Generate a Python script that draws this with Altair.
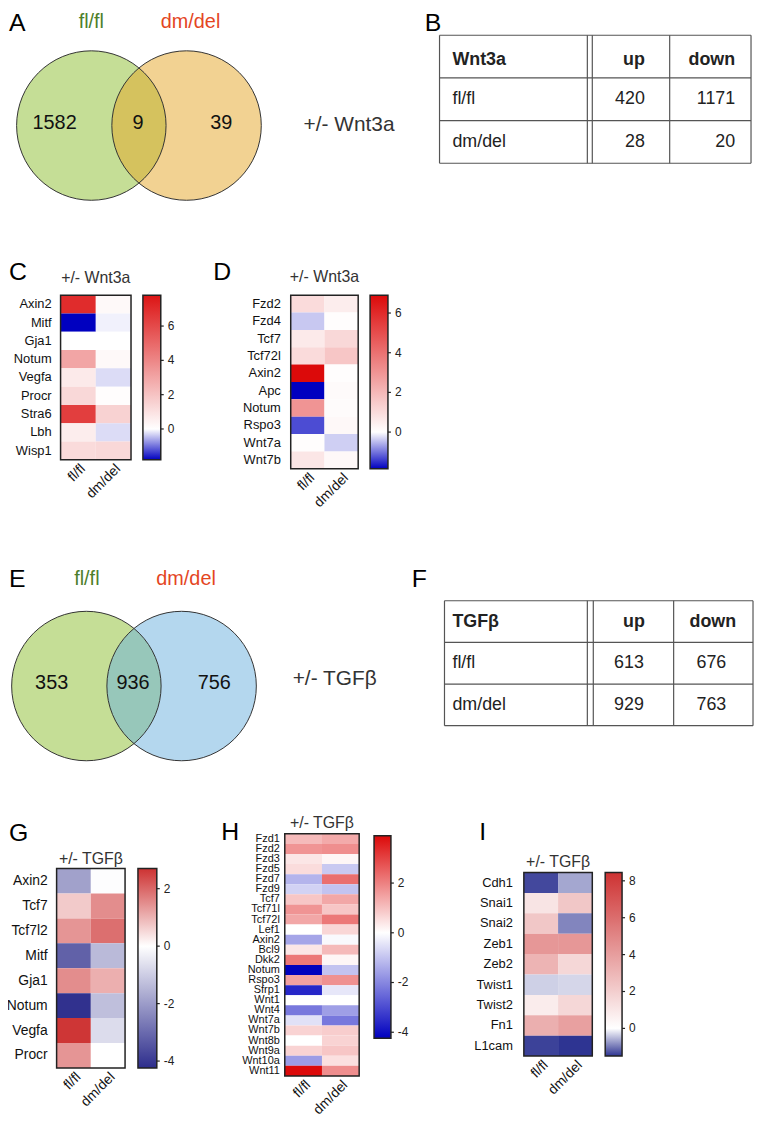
import math
import altair as alt
import pandas as pd

FONT = "Liberation Sans"
W, H = 752, 1116
M = 8  # page margin (reference pixel -> chart pixel)


def px(v):
    return v - M


# ---------------- data ----------------
samples = ["fl/fl", "dm/del"]
venn_regions = ["fl/fl only", "both", "dm/del only"]

venn_a_counts = [1582, 9, 39]
venn_e_counts = [353, 936, 756]

table_rows = ["header", "fl/fl", "dm/del"]
table_cols = ["up", "down"]
table_b_name = "Wnt3a"
table_b_up = [420, 28]
table_b_down = [1171, 20]
table_f_name = "TGFβ"
table_f_up = [613, 929]
table_f_down = [676, 763]

genes_c = ["Axin2", "Mitf", "Gja1", "Notum", "Vegfa", "Procr", "Stra6", "Lbh", "Wisp1"]
c_flfl = [7.0, -1.8, 0.0, 3.0, 0.7, 1.3, 6.4, 0.6, 1.2]
c_dmdel = [0.2, -0.1, 0.0, 0.2, -0.25, 0.05, 1.5, -0.25, 1.3]

genes_d = ["Fzd2", "Fzd4", "Tcf7", "Tcf72l", "Axin2", "Apc", "Notum", "Rspo3", "Wnt7a", "Wnt7b"]
d_flfl = [1.0, -0.4, 0.6, 1.0, 6.9, -1.85, 3.0, -1.3, 0.05, 0.7]
d_dmdel = [0.5, 0.05, 1.1, 1.6, 0.05, 0.15, 0.1, 0.2, -0.35, 0.2]

genes_g = ["Axin2", "Tcf7", "Tcf7l2", "Mitf", "Gja1", "Notum", "Vegfa", "Procr"]
g_flfl = [-1.9, 0.7, 1.4, -3.2, 1.5, -4.15, 2.65, 1.4]
g_dmdel = [-0.05, 1.5, 1.9, -1.4, 1.05, -1.3, -0.7, 0.0]

genes_h = ["Fzd1", "Fzd2", "Fzd3", "Fzd5", "Fzd7", "Fzd9", "Tcf7", "Tcf71l", "Tcf72l",
           "Lef1", "Axin2", "Bcl9", "Dkk2", "Notum", "Rspo3", "Sfrp1", "Wnt1", "Wnt4",
           "Wnt7a", "Wnt7b", "Wnt8b", "Wnt9a", "Wnt10a", "Wnt11"]
h_flfl = [1.1, 1.7, 0.4, 0.55, -1.25, -0.75, 0.9, 1.7, 1.4, 0.0, -1.5, 0.4,
          2.15, -4.24, 1.5, -3.6, 0.0, -2.25, -0.5, 0.7, 0.0, 0.7, -1.65, 3.9]
h_dmdel = [1.35, 1.8, 0.15, -0.9, 2.3, -1.0, 1.4, 0.9, 2.15, 0.65, -0.1, 1.1,
           0.15, -1.0, 1.75, -0.4, 0.0, -1.6, -2.25, 0.8, 0.7, 0.9, 0.5, 1.8]

genes_i = ["Cdh1", "Snai1", "Snai2", "Zeb1", "Zeb2", "Twist1", "Twist2", "Fn1", "L1cam"]
i_flfl = [-1.35, 1.1, 2.3, 4.3, 3.1, -0.35, 0.8, 3.3, -1.4]
i_dmdel = [-0.65, 2.3, -0.9, 4.3, 1.65, -0.3, 1.65, 3.9, -1.5]

# ---------------- helpers ----------------

def text_layer(text, x, y, size, color="#000000", align="left", weight="normal"):
    return alt.Chart(pd.DataFrame({"t": [text]})).mark_text(
        align=align, baseline="alphabetic", font=FONT, fontSize=size,
        fontWeight=weight, color=color
    ).encode(x=alt.value(px(x)), y=alt.value(px(y)), text="t:N")


def heatmap(genes, v_fl, v_dm, box, bar, lo, hi, c_lo, c_hi, ticks,
            gene_size, gene_pad, title_text, title_base):
    x0, x1, y0, y1 = box
    bx0, bx1, by0, by1 = bar
    n = len(genes)
    df = pd.DataFrame({
        "gene": genes + genes,
        "sample": [samples[0]] * n + [samples[1]] * n,
        "value": v_fl + v_dm,
    })
    xs = alt.Scale(domain=samples, range=[px(x0), px(x1)], paddingInner=0, paddingOuter=0)
    ys = alt.Scale(domain=genes, range=[px(y0), px(y1)], paddingInner=0, paddingOuter=0)
    cells = alt.Chart(df).mark_rect().encode(
        x=alt.X("sample:N", sort=samples, scale=xs, axis=None),
        y=alt.Y("gene:N", sort=genes, scale=ys, axis=None),
        color=alt.Color("value:Q", scale=alt.Scale(
            type="linear", domain=[lo, 0, hi], range=[c_lo, "#ffffff", c_hi],
            interpolate="rgb"),
            legend=alt.Legend(
                orient="none", legendX=px(bx0), legendY=px(by0), direction="vertical",
                title=None, gradientLength=by1 - by0, gradientThickness=bx1 - bx0,
                values=ticks, labelFont=FONT, labelFontSize=12, labelColor="#222222",
                labelOffset=7, gradientStrokeColor="#222222", gradientStrokeWidth=1.5,
                labelExpr="datum.value < 0 ? '-' + abs(datum.value) : '' + datum.value",
                padding=0)),
    )
    bdf = pd.DataFrame({"s0": [samples[0]], "s1": [samples[-1]],
                        "g0": [genes[0]], "g1": [genes[-1]]})
    border = alt.Chart(bdf).mark_rect(fillOpacity=0, stroke="#222222", strokeWidth=1.5).encode(
        x=alt.X("s0:N", bandPosition=0, axis=None),
        x2=alt.X2(field="s1", bandPosition=1),
        y=alt.Y("g0:N", bandPosition=0, axis=None),
        y2=alt.Y2(field="g1", bandPosition=1),
    )
    gene_labels = alt.Chart(pd.DataFrame({"gene": genes})).mark_text(
        align="right", baseline="middle", font=FONT, fontSize=gene_size, color="#111111"
    ).encode(y=alt.Y("gene:N", axis=None), x=alt.value(px(x0 - gene_pad)), text="gene:N")
    sample_labels = alt.Chart(pd.DataFrame({"sample": samples})).mark_text(
        align="right", baseline="middle", font=FONT, fontSize=14, color="#111111",
        angle=315, dx=7
    ).encode(x=alt.X("sample:N", axis=None), y=alt.value(px(y1 + 12)), text="sample:N")
    tick_marks = alt.Chart(pd.DataFrame({"v": ticks})).mark_rule(
        color="#222222", strokeWidth=1.2
    ).encode(
        y=alt.Y("v:Q", scale=alt.Scale(domain=[lo, hi], range=[px(by1), px(by0)],
                                       zero=False, nice=False), axis=None),
        x=alt.value(px(bx1 - 2)), x2=alt.value(px(bx1 + 3)))
    title = text_layer(title_text, (x0 + x1) / 2, title_base, 16, "#333333", "center")
    return [alt.layer(cells, border, gene_labels, sample_labels), tick_marks, title]


def venn(counts, cL, cR, cy, r, fill_left, fill_right, label_xs, label_y, num_xs, num_y):
    size = math.pi * r * r
    cx = alt.Scale(type="point", domain=samples, range=[px(cL), px(cR)], padding=0)
    left = alt.Chart(pd.DataFrame({"set": [samples[0]]})).mark_circle(
        size=size, fill=fill_left, fillOpacity=1, opacity=1, strokeWidth=0
    ).encode(x=alt.X("set:N", scale=cx, axis=None), y=alt.value(px(cy)))
    right = alt.Chart(pd.DataFrame({"set": [samples[1]]})).mark_circle(
        size=size, fill=fill_right, fillOpacity=0.5, opacity=1, strokeWidth=0
    ).encode(x=alt.X("set:N", scale=cx, axis=None), y=alt.value(px(cy)))
    outline = alt.Chart(pd.DataFrame({"set": samples})).mark_circle(
        size=size, fillOpacity=0, opacity=1, stroke="#333333", strokeWidth=1
    ).encode(x=alt.X("set:N", scale=cx, axis=None), y=alt.value(px(cy)))
    labels = alt.Chart(pd.DataFrame({"set": samples})).mark_text(
        font=FONT, fontSize=20, baseline="alphabetic", align="center"
    ).encode(
        x=alt.X("set:N", scale=alt.Scale(type="point", domain=samples,
                                          range=[px(label_xs[0]), px(label_xs[1])], padding=0),
                axis=None),
        y=alt.value(px(label_y)),
        text="set:N",
        color=alt.Color("set:N", scale=alt.Scale(domain=samples, range=["#4e7f2b", "#e4461f"]),
                        legend=None),
    )
    nums = alt.Chart(pd.DataFrame({"region": venn_regions, "count": counts})).mark_text(
        font=FONT, fontSize=20, baseline="alphabetic", align="center", color="#111111"
    ).encode(
        x=alt.X("region:N", scale=alt.Scale(type="point", domain=venn_regions,
                                             range=[px(num_xs[0]), px(num_xs[1])], padding=0),
                axis=None),
        y=alt.value(px(num_y)),
        text="count:N",
    )
    return alt.layer(left, right, outline, labels, nums).resolve_scale(
        x="independent", color="independent")


def table(name, up, down, left, right, top, bottom, vlines, name_x, up_x, down_x,
          num_align, up_num_x, down_num_x, header_dy):
    ys = alt.Scale(domain=table_rows, range=[px(top), px(bottom)], paddingInner=0, paddingOuter=0)
    line = dict(color="#555555", strokeWidth=1.2)
    hl = alt.Chart(pd.DataFrame({"row": table_rows})).mark_rule(**line).encode(
        y=alt.Y("row:N", scale=ys, bandPosition=0, axis=None),
        x=alt.value(px(left)), x2=alt.value(px(right)))
    bl = alt.Chart(pd.DataFrame({"row": [table_rows[-1]]})).mark_rule(**line).encode(
        y=alt.Y("row:N", bandPosition=1, axis=None),
        x=alt.value(px(left)), x2=alt.value(px(right)))
    layers = [hl, bl]
    span = pd.DataFrame({"r0": [table_rows[0]], "r1": [table_rows[-1]]})
    for xv in vlines:
        layers.append(alt.Chart(span).mark_rule(**line).encode(
            x=alt.value(px(xv)),
            y=alt.Y("r0:N", bandPosition=0, axis=None),
            y2=alt.Y2(field="r1", bandPosition=1)))

    def txt(df, x, align, weight, dy=0):
        return alt.Chart(df).mark_text(
            font=FONT, fontSize=18, baseline="middle", align=align, fontWeight=weight,
            color="#222222", dy=dy
        ).encode(x=alt.value(px(x)), y=alt.Y("row:N", axis=None), text="t:N")
    layers.append(txt(pd.DataFrame({"row": ["header"], "t": [name]}), name_x, "left", "bold", header_dy))
    layers.append(txt(pd.DataFrame({"row": ["header"], "t": [table_cols[0]]}), up_x[0], up_x[1], "bold", header_dy))
    layers.append(txt(pd.DataFrame({"row": ["header"], "t": [table_cols[1]]}), down_x[0], down_x[1], "bold", header_dy))
    layers.append(txt(pd.DataFrame({"row": table_rows[1:], "t": table_rows[1:]}), name_x, "left", "normal"))
    layers.append(txt(pd.DataFrame({"row": table_rows[1:], "t": [str(v) for v in up]}), up_num_x, num_align, "normal"))
    layers.append(txt(pd.DataFrame({"row": table_rows[1:], "t": [str(v) for v in down]}), down_num_x, num_align, "normal"))
    return alt.layer(*layers)


layers = []

# Panel A / B
layers.append(text_layer("A", 9, 27, 25))
layers.append(venn(venn_a_counts, 92, 188, 122, 85, "#c5de96", "#e5a526",
                   (92, 192), 24, (55, 223), 125))
layers.append(text_layer("+/- Wnt3a", 306, 127, 21, "#333333"))
layers.append(text_layer("B", 428, 27, 25))
layers.append(table(table_b_name, table_b_up, table_b_down, 443, 757, 31, 160,
                    [443, 592, 597, 675, 757], 456, (650, "right"), (741, "right"),
                    "right", 650, 741, 3))

# Panel C / D
layers.append(text_layer("C", 9, 278, 25))
layers += heatmap(genes_c, c_flfl, c_dmdel, (61, 132, 293, 459), (144, 162, 293, 459),
                  -1.8, 7.8, "#0000c0", "#dc1414", [0, 2, 4, 6], 13, 9, "+/- Wnt3a", 281)
layers.append(text_layer("D", 215, 278, 25))
layers += heatmap(genes_d, d_flfl, d_dmdel, (293, 361, 293, 468), (373, 391, 293, 468),
                  -1.85, 6.9, "#0000c0", "#dc0a0a", [0, 2, 4, 6], 13, 10, "+/- Wnt3a", 280)

# Panel E / F
layers.append(text_layer("E", 9, 587, 25))
layers.append(venn(venn_e_counts, 87, 183, 687, 85, "#c5de96", "#69b0dd",
                   (87.5, 187.5), 585, (52, 216), 690))
layers.append(text_layer("+/- TGFβ", 295, 686, 21, "#333333"))
layers.append(text_layer("F", 415, 587, 25))
layers.append(table(table_f_name, table_f_up, table_f_down, 448, 759, 601, 727,
                    [448, 592, 598, 679, 759], 456, (650, "right"), (742, "right"),
                    "center", 634, 717, 0))

# Panel G / H / I
layers.append(text_layer("G", 9, 843, 25))
layers += heatmap(genes_g, g_flfl, g_dmdel, (57, 126, 871, 1072), (139, 158, 871, 1072),
                  -4.24, 2.7, "#2d2d8c", "#cd3232", [-4, -2, 0, 2], 14, 9, "+/- TGFβ", 866)
layers.append(text_layer("H", 223, 842, 25))
layers += heatmap(genes_h, h_flfl, h_dmdel, (287, 362, 836, 1080), (377, 394, 838, 1042),
                  -4.24, 3.9, "#0000be", "#dc0a0a", [-4, -2, 0, 2], 11, 5, "+/- TGFβ", 830)
layers.append(text_layer("I", 483, 842, 25))
layers += heatmap(genes_i, i_flfl, i_dmdel, (528, 597, 875, 1060), (610, 627, 875, 1060),
                  -1.5, 8.45, "#2e3492", "#cd3232", [0, 2, 4, 6, 8], 13, 11, "+/- TGFβ", 869)

chart = alt.layer(*layers).resolve_scale(
    x="independent", y="independent", color="independent"
).properties(
    width=W, height=H, padding=0, autosize=alt.AutoSizeParams(type="none")
).configure_view(stroke="transparent")

chart.save("out.html", embed_options={"renderer": "svg", "actions": False})
